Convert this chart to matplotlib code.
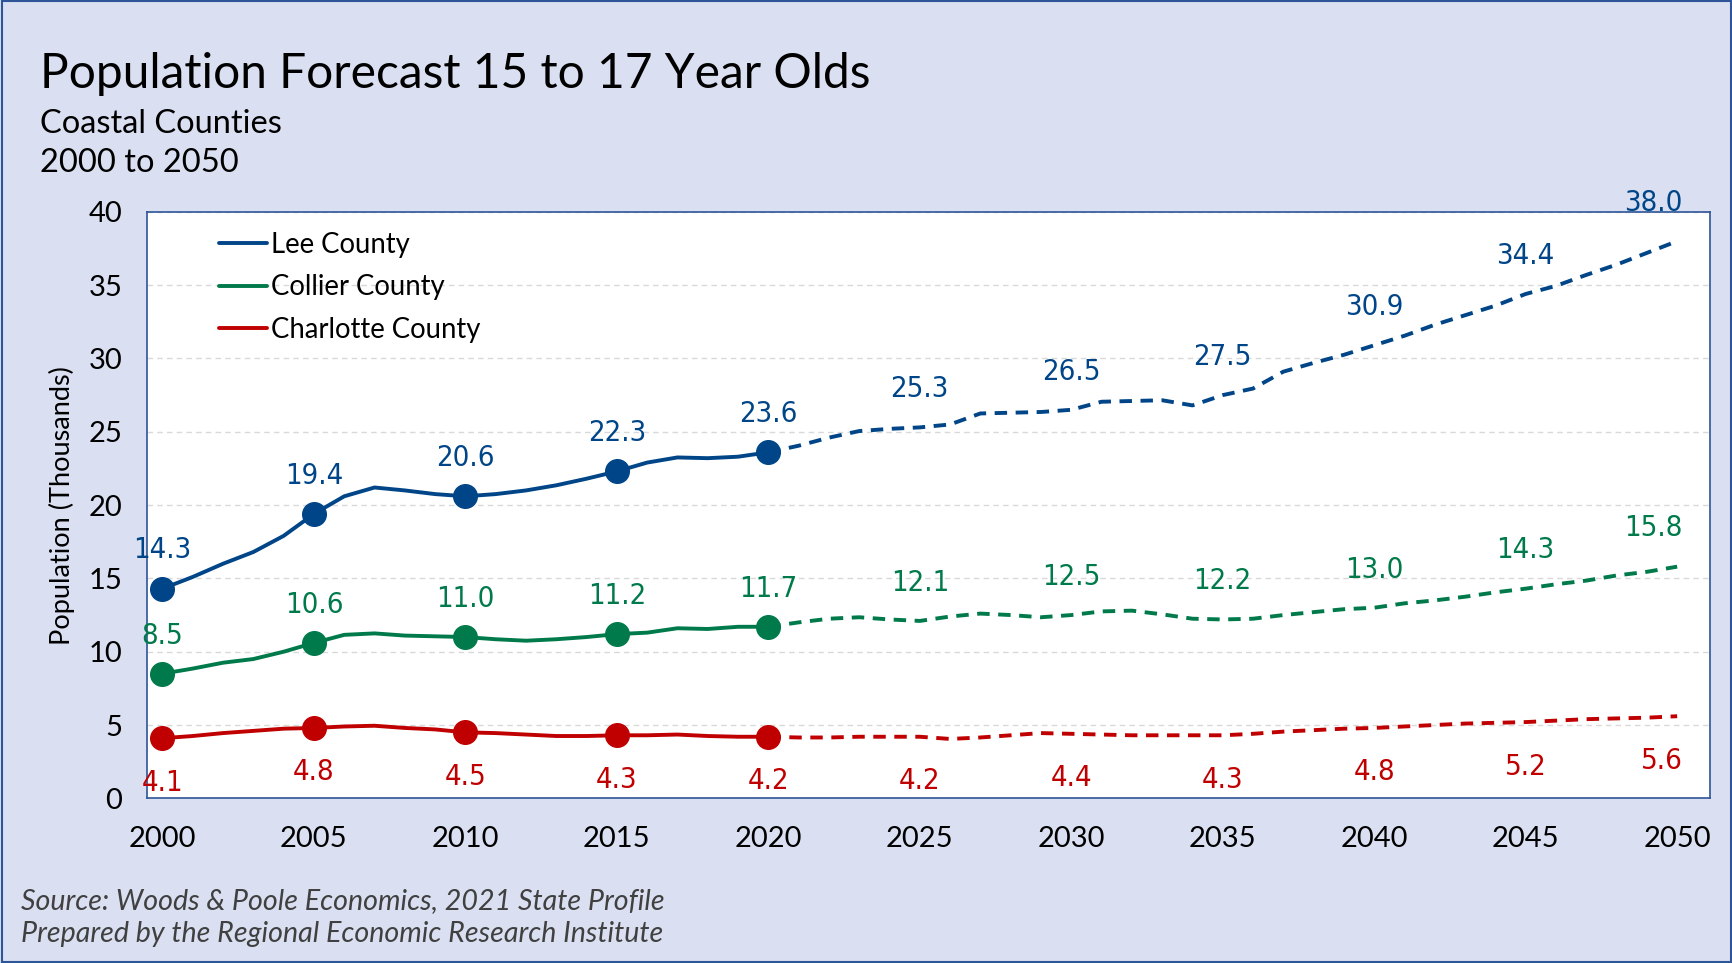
import matplotlib
matplotlib.use("Agg")
import matplotlib.pyplot as plt

# data (thousands)
years = list(range(2000, 2051))

lee = [14.3, 15.1, 16.0, 16.8, 17.9, 19.4, 20.6, 21.2, 21.0, 20.75,
       20.6, 20.75, 21.0, 21.35, 21.8, 22.3, 22.9, 23.25, 23.2, 23.3,
       23.6, 24.05, 24.6, 25.05, 25.2, 25.3, 25.5, 26.25, 26.3, 26.35,
       26.5, 27.05, 27.1, 27.15, 26.8, 27.5, 27.95, 29.1, 29.7, 30.25,
       30.9, 31.55, 32.3, 32.95, 33.6, 34.4, 34.95, 35.7, 36.4, 37.2,
       38.0]
collier = [8.5, 8.85, 9.25, 9.5, 10.0, 10.6, 11.15, 11.25, 11.1, 11.05,
           11.0, 10.85, 10.75, 10.85, 11.0, 11.2, 11.3, 11.6, 11.55, 11.7,
           11.7, 12.0, 12.25, 12.35, 12.2, 12.1, 12.4, 12.6, 12.5, 12.35,
           12.5, 12.75, 12.8, 12.55, 12.25, 12.2, 12.25, 12.5, 12.7, 12.9,
           13.0, 13.3, 13.5, 13.75, 14.05, 14.3, 14.6, 14.85, 15.2, 15.45,
           15.8]
charlotte = [4.1, 4.25, 4.45, 4.6, 4.75, 4.8, 4.9, 4.95, 4.8, 4.7,
             4.5, 4.45, 4.35, 4.25, 4.25, 4.3, 4.3, 4.35, 4.25, 4.2,
             4.2, 4.15, 4.15, 4.2, 4.2, 4.2, 4.05, 4.15, 4.3, 4.45,
             4.4, 4.35, 4.3, 4.3, 4.3, 4.3, 4.4, 4.55, 4.65, 4.75,
             4.8, 4.9, 5.0, 5.1, 5.15, 5.2, 5.3, 5.4, 5.45, 5.5,
             5.6]

names = ["Lee County", "Collier County", "Charlotte County"]
colors = ["#004587", "#007A4A", "#C00000"]
series = [lee, collier, charlotte]
label_pos = ["above", "above", "below"]

hist_end = 2020
marker_years = [2000, 2005, 2010, 2015, 2020]
label_years = list(range(2000, 2051, 5))

bg = "#DAE0F1"
title_font = ["Lato", "DejaVu Sans"]

fig = plt.figure(figsize=(17.33, 9.63), dpi=100, facecolor=bg)
ax = fig.add_axes([0.085, 0.171, 0.902, 0.609])
ax.set_facecolor("white")

i_end = years.index(hist_end)
for vals, name, c, pos in zip(series, names, colors, label_pos):
    ax.plot(years[:i_end + 1], vals[:i_end + 1], color=c, lw=2.8,
            label=name, solid_capstyle="round")
    ax.plot(years[i_end:], vals[i_end:], color=c, lw=2.8,
            linestyle=(0, (3.2, 2.2)))
    my = [vals[years.index(y)] for y in marker_years]
    ax.plot(marker_years, my, "o", color=c, markersize=17, zorder=4)
    for y in label_years:
        v = vals[years.index(y)]
        dy = 27.5 if pos == "above" else -32
        ha = "center"
        dx = 0
        if y == 2050:
            ha = "right"
            dx = 4
        ax.annotate(f"{v:.1f}", (y, v), xytext=(dx, dy),
                    textcoords="offset points", ha=ha, va="center",
                    color=c, fontsize=21, family="DejaVu Sans",
                    fontstretch="condensed", annotation_clip=False)

ax.set_xlim(1999.5, 2051.1)
ax.set_ylim(0, 40)
ax.set_xticks(label_years)
ax.set_yticks(range(0, 41, 5))
ax.tick_params(axis="both", length=0, labelsize=21)
ax.tick_params(axis="x", pad=20)
ax.tick_params(axis="y", pad=18)
for lab in ax.get_xticklabels() + ax.get_yticklabels():
    lab.set_family(title_font)
ax.grid(axis="y", color="#D9D9D9", linestyle=(0, (4, 3)), lw=1)
ax.set_axisbelow(True)
for sp in ax.spines.values():
    sp.set_color("#2E5597")
    sp.set_linewidth(1.2)

ax.set_ylabel("Population (Thousands)", fontsize=19.5, family=title_font,
              labelpad=10)

leg = ax.legend(loc="upper left", bbox_to_anchor=(0.03, 1.008), frameon=False,
                handlelength=1.75, handletextpad=0.15, labelspacing=0.6,
                prop={"family": title_font, "size": 19.8})

fig.text(0.023, 0.923, "Population Forecast 15 to 17 Year Olds", fontsize=34.5,
         family=title_font, va="center")
fig.text(0.023, 0.871, "Coastal Counties", fontsize=23.5, family=title_font,
         va="center")
fig.text(0.023, 0.831, "2000 to 2050", fontsize=23.5, family=title_font,
         va="center")
fig.text(0.012, 0.064, "Source: Woods & Poole Economics, 2021 State Profile",
         fontsize=20.6, style="italic", family=title_font, va="center",
         color="#404040")
fig.text(0.012, 0.030, "Prepared by the Regional Economic Research Institute",
         fontsize=20.6, style="italic", family=title_font, va="center",
         color="#404040")

# thin border round the whole picture
fig.patches.append(plt.Rectangle((0.001, 0.001), 0.998, 0.998,
                                 transform=fig.transFigure, fill=False,
                                 edgecolor="#2E5597", lw=1.5))

fig.savefig("out.png", dpi=100, facecolor=bg)
